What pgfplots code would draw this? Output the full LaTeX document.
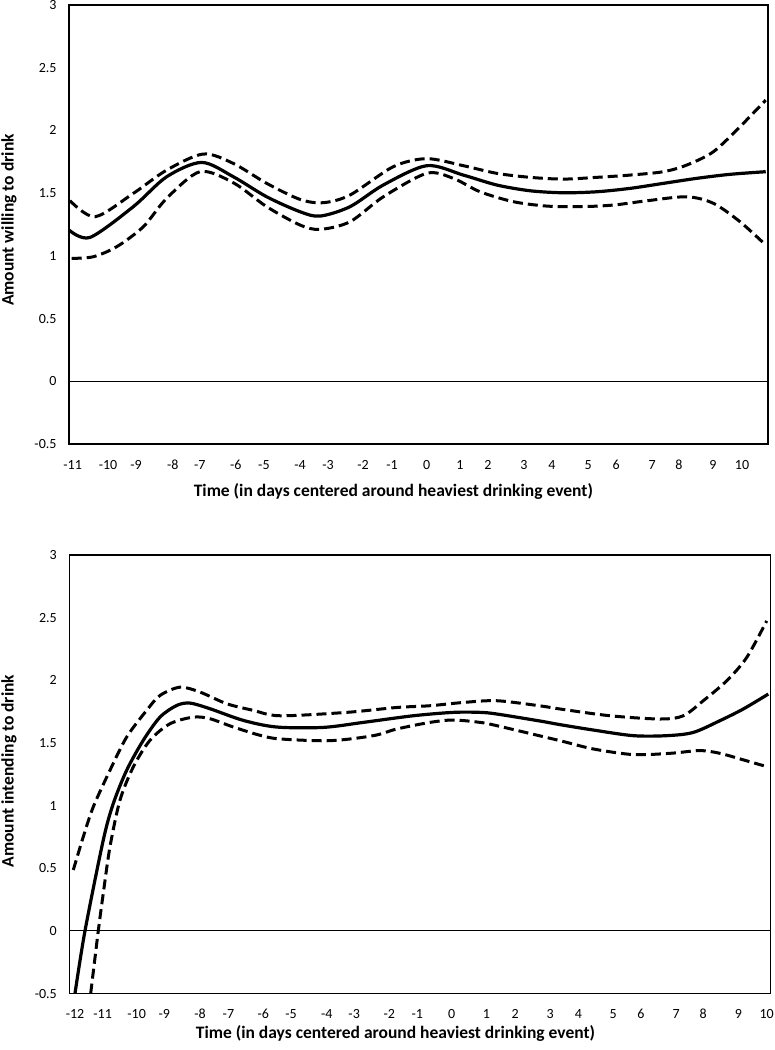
\documentclass[border=0pt]{standalone}
\usepackage{pgfplots}
\pgfplotsset{compat=1.18}
\usepackage{fontspec}
\setmainfont{Carlito}
\pgfplotsset{
  myaxis/.style={
    scale only axis,
    anchor=south west,
    axis line style={black, line width=1.3bp},
    tick style={draw=none},
    major tick length=0pt,
    ymin=-0.5, ymax=3,
    ytick={-0.5,0,0.5,1,1.5,2,2.5,3},
    yticklabels={-0.5,0,0.5,1,1.5,2,2.5,3},
    ticklabel style={font=\fontsize{14bp}{16bp}\selectfont, text=black},
    yticklabel style={xshift=-9bp},
    xticklabel style={anchor=base, yshift=-25bp},
    label style={font=\fontsize{17.5bp}{20bp}\selectfont\bfseries},
    clip=true,
  },
  solidc/.style={black, line width=3.2bp, smooth, no markers},
  dashc/.style={black, line width=3bp, smooth, no markers, dash pattern=on 10bp off 5bp},
  zeroline/.style={black, line width=1bp, no markers},
}
\pgfplotstableread{
x y
-11.116 1.206
-10.457 1.147
-9.099 1.392
-8.050 1.631
-6.952 1.745
-5.961 1.631
-4.913 1.471
-3.868 1.352
-3.240 1.317
-2.299 1.392
-1.254 1.565
0.108 1.719
1.256 1.644
2.304 1.565
3.349 1.519
4.394 1.503
5.442 1.511
6.487 1.538
7.532 1.578
8.580 1.618
9.624 1.650
10.745 1.671
}\topmid
\pgfplotstableread{
x y
-11.085 1.44
-10.300 1.312
-9.099 1.498
-8.050 1.684
-6.902 1.812
-5.961 1.737
-4.913 1.578
-3.868 1.450
-3.137 1.424
-2.299 1.485
-0.940 1.711
0.108 1.775
1.256 1.719
2.304 1.658
3.349 1.626
4.394 1.612
5.442 1.626
6.487 1.644
7.532 1.671
8.266 1.724
9.101 1.830
9.938 2.030
10.745 2.242
}\topup
\pgfplotstableread{
x y
-11.031 0.980
-10.354 0.993
-9.619 1.073
-8.785 1.232
-8.050 1.459
-7.006 1.671
-5.961 1.583
-4.913 1.392
-3.868 1.246
-3.240 1.211
-2.299 1.272
-1.254 1.471
0.108 1.658
0.942 1.618
1.780 1.511
2.825 1.432
3.873 1.397
4.918 1.392
5.963 1.405
7.011 1.439
8.266 1.471
9.101 1.419
9.938 1.272
10.745 1.086
}\toplow
\pgfplotstableread{
x y
-12.000 -0.500
-11.682 0.000
-11.100 0.725
-10.782 1.016
-10.356 1.282
-9.828 1.521
-9.296 1.706
-8.765 1.799
-8.342 1.818
-7.706 1.773
-6.647 1.680
-5.585 1.627
-4.102 1.624
-2.830 1.664
-1.240 1.717
0.032 1.744
0.882 1.744
1.413 1.731
2.790 1.675
3.426 1.646
4.485 1.603
5.758 1.558
6.820 1.558
7.666 1.584
8.515 1.678
9.256 1.771
10.051 1.890
}\botmid
\pgfplotstableread{
x y
-12.054 0.486
-11.736 0.751
-11.418 0.990
-10.887 1.282
-10.356 1.547
-9.720 1.760
-9.296 1.879
-8.660 1.945
-8.024 1.906
-7.175 1.813
-6.329 1.760
-5.480 1.717
-3.358 1.744
-1.768 1.783
-0.709 1.797
0.351 1.823
1.413 1.837
2.790 1.796
3.426 1.771
5.017 1.717
6.607 1.691
7.348 1.717
7.984 1.837
8.728 1.996
9.364 2.182
10.000 2.474
}\botup
\pgfplotstableread{
x y
-11.501 -0.500
-11.259 0.000
-11.100 0.300
-10.887 0.671
-10.569 1.043
-10.146 1.308
-9.615 1.521
-8.979 1.653
-8.237 1.706
-7.706 1.693
-6.965 1.627
-6.116 1.561
-5.480 1.532
-3.889 1.518
-2.512 1.558
-1.768 1.611
-0.709 1.664
0.032 1.683
0.882 1.664
1.413 1.638
3.426 1.518
4.485 1.452
5.758 1.407
6.925 1.417
7.879 1.439
8.515 1.417
9.256 1.365
10.000 1.311
}\botlow
\begin{document}
\begin{tikzpicture}
\useasboundingbox (0bp,0bp) rectangle (775bp,-1050bp);
\begin{axis}[myaxis,
  at={(69bp,-444bp)}, width=699bp, height=439bp,
  xmin=-11.116, xmax=10.816,
  xtick={-11,-9.89,-9.01,-7.86,-7.01,-5.88,-5.00,-3.87,-2.99,-1.89,-0.98,0.11,1.15,2.03,3.16,4.04,5.17,6.05,7.18,8.02,9.09,10.0},
  xticklabels={-11,-10,-9,-8,-7,-6,-5,-4,-3,-2,-1,0,1,2,3,4,5,6,7,8,9,10},
  xlabel={Time (in days centered around heaviest drinking event)},
  ylabel={Amount willing to drink},
  xlabel style={at={(axis description cs:0.464,-0.109)}, anchor=center},
  ylabel style={at={(axis description cs:-0.086,0.51)}, anchor=center},
]
\addplot[zeroline] coordinates {(-11.2,0) (10.9,0)};
\addplot[dashc] table {\topup};
\addplot[dashc] table {\toplow};
\addplot[solidc] table {\topmid};
\end{axis}
\begin{axis}[myaxis,
  at={(69.3bp,-993.5bp)}, width=701.4bp, height=438.5bp,
  xmin=-12.181, xmax=10.128,
  xtick={-12,-11.12,-10.04,-9.16,-8.02,-7.12,-6.01,-5.13,-3.99,-3.12,-2.00,-1.11,-0.02,1.09,2.00,3.11,4.01,5.12,6.00,7.12,7.98,9.10,10.0},
  xticklabels={-12,-11,-10,-9,-8,-7,-6,-5,-4,-3,-2,-1,0,1,2,3,4,5,6,7,8,9,10},
  xlabel={Time (in days centered around heaviest drinking event)},
  ylabel={Amount intending to drink},
  xlabel style={at={(axis description cs:0.465,-0.091)}, anchor=center},
  ylabel style={at={(axis description cs:-0.086,0.507)}, anchor=center},
]
\addplot[zeroline] coordinates {(-12.3,0) (10.3,0)};
\addplot[dashc] table {\botup};
\addplot[dashc] table {\botlow};
\addplot[solidc] table {\botmid};
\end{axis}
\end{tikzpicture}
\end{document}
